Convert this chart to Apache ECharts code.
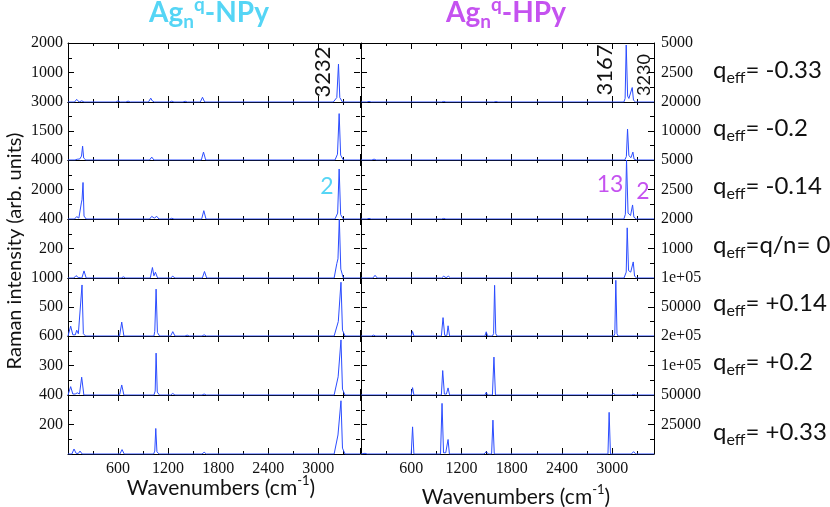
<!DOCTYPE html>
<html>
<head>
<meta charset="utf-8">
<script src="https://cdn.jsdelivr.net/npm/echarts@6/dist/echarts.min.js"></script>
<style>
html, body { margin: 0; padding: 0; background: #fff; }
#chart { width: 830px; height: 507px; }
</style>
</head>
<body>
<div id="chart"></div>
<script>
// Raman spectra, [wavenumber, intensity]
var npy_m033 = [[0,0],[78,0],[104,90],[134,0],[164,40],[192,0],[575,0],[600,40],[626,0],[694,0],[720,30],[746,0],[964,0],[992,130],[1010,40],[1036,0],[1218,0],[1244,30],[1270,0],[1378,0],[1404,25],[1430,0],[1586,0],[1612,160],[1638,0],[3180,0],[3222,150],[3242,1285],[3258,150],[3290,0],[3500,0]];
var npy_m02 = [[0,0],[84,0],[110,40],[140,50],[162,200],[175,716],[188,100],[214,0],[978,0],[1004,150],[1030,0],[1598,0],[1624,409],[1650,0],[3200,0],[3230,300],[3250,2400],[3268,250],[3300,0],[3500,0]];
var npy_m014 = [[0,0],[78,0],[104,160],[130,60],[160,1090],[168,1300],[180,2475],[192,200],[218,0],[978,0],[1004,180],[1034,60],[1064,180],[1090,0],[1218,0],[1244,50],[1270,0],[1602,0],[1628,565],[1654,0],[3200,0],[3232,400],[3250,3390],[3268,300],[3300,0],[3500,0]];
var npy_0 = [[0,0],[70,0],[96,16],[122,4],[166,0],[192,48],[218,0],[638,0],[664,8],[690,0],[986,0],[1012,71],[1030,15],[1048,39],[1074,0],[1230,0],[1256,12],[1282,0],[1610,0],[1636,44],[1662,0],[3190,0],[3222,98],[3236,130],[3252,400],[3270,60],[3300,0],[3500,0]];
var npy_p014 = [[0,0],[32,170],[58,20],[88,20],[104,100],[124,40],[146,60],[168,880],[184,40],[210,0],[618,0],[644,240],[670,0],[1030,0],[1040,80],[1056,808],[1072,60],[1098,0],[1230,0],[1256,75],[1282,0],[1402,0],[1428,15],[1454,0],[1606,0],[1632,20],[1658,0],[3190,0],[3240,250],[3272,927],[3290,100],[3320,0],[3500,0]];
var npy_p02 = [[0,0],[32,85],[58,10],[86,10],[112,22],[138,10],[164,181],[190,0],[618,0],[644,102],[670,0],[1030,0],[1045,40],[1056,426],[1070,30],[1096,0],[1230,0],[1256,15],[1282,0],[1606,0],[1632,10],[1658,0],[3190,0],[3238,185],[3272,560],[3290,60],[3320,0],[3500,0]];
var npy_p033 = [[0,0],[46,0],[72,34],[98,4],[124,4],[144,20],[170,0],[622,0],[648,30],[674,0],[1026,0],[1040,20],[1052,173],[1066,15],[1092,0],[1606,0],[1632,12],[1658,0],[3190,0],[3236,129],[3272,361],[3290,40],[3320,0],[3500,0]];

var hpy_m033 = [[0,0],[70,0],[96,50],[122,0],[962,0],[988,50],[1014,0],[1586,0],[1612,40],[1638,0],[3140,0],[3155,300],[3168,4830],[3185,500],[3200,300],[3240,1227],[3255,150],[3280,0],[3500,0]];
var hpy_m02 = [[0,0],[130,0],[156,300],[182,0],[3150,0],[3170,1200],[3184,10660],[3200,1500],[3225,800],[3248,2730],[3262,300],[3290,0],[3500,0]];
var hpy_m014 = [[0,0],[70,0],[96,50],[122,0],[962,0],[988,50],[1014,0],[3140,0],[3158,400],[3172,5000],[3190,500],[3220,300],[3244,1190],[3260,150],[3290,0],[3500,0]];
var hpy_0 = [[0,0],[142,0],[168,92],[194,0],[962,0],[988,60],[1016,10],[1044,60],[1070,0],[3142,0],[3168,200],[3180,1700],[3196,250],[3222,200],[3235,150],[3252,545],[3268,60],[3294,0],[3500,0]];
var hpy_p014 = [[0,0],[124,0],[150,1500],[176,0],[600,0],[616,7800],[632,0],[960,0],[980,31700],[1000,1000],[1026,1000],[1040,17600],[1058,0],[1480,0],[1496,7300],[1512,0],[1570,0],[1584,4000],[1596,87400],[1610,4000],[1625,0],[3020,0],[3032,4000],[3044,96000],[3058,4000],[3070,0],[3500,0]];
var hpy_p02 = [[0,0],[600,0],[616,24900],[632,0],[960,0],[976,82800],[996,3000],[1020,3000],[1040,24000],[1058,0],[1480,0],[1496,9000],[1512,0],[1570,0],[1588,128500],[1606,0],[2990,0],[3016,5000],[3042,0],[3230,0],[3256,2000],[3282,0],[3500,0]];
var hpy_p033 = [[0,0],[22,0],[48,600],[74,0],[600,0],[616,23000],[632,0],[950,0],[968,42900],[986,1000],[1012,1000],[1040,12300],[1056,0],[1470,0],[1496,2000],[1522,0],[1560,0],[1576,28700],[1592,0],[2950,0],[2964,35300],[2980,0],[3230,0],[3256,2000],[3282,0],[3500,0]];

var npySpectra = [npy_m033, npy_m02, npy_m014, npy_0, npy_p014, npy_p02, npy_p033];
var hpySpectra = [hpy_m033, hpy_m02, hpy_m014, hpy_0, hpy_p014, hpy_p02, hpy_p033];
var npyMax = [2000, 3000, 4000, 400, 1000, 600, 400];
var hpyMax = [5000, 20000, 5000, 2000, 100000, 200000, 50000];
var qeffLabels = ['= -0.33', '= -0.2', '= -0.14', '=q/n= 0', '= +0.14', '= +0.2', '= +0.33'];
var qeffY = [70, 128, 186, 245, 303, 362, 432];
var wnMax = 3500;

var myChart = echarts.init(document.getElementById('chart'));

var serif = '"Liberation Serif", "Times New Roman", serif';
var sans = 'Lato, "Open Sans", sans-serif';
var lineBlue = '#2b4cff';

var grids = [], xAxes = [], yAxes = [], series = [];
// panel edges in px (7 rows of ~58.7 px)
var rowEdges = [43, 102, 160, 219, 278, 336, 395, 454];

function plainLabel(v) {
    return '' + v;
}

function hpyLabel(v) {
    if (v >= 100000) return (v / 100000) + 'e+05';
    return '' + v;
}

function addPanel(col, row) {
    var k = grids.length;
    var last = row === 6;
    var ymax = col === 0 ? npyMax[row] : hpyMax[row];
    grids.push({
        left: col === 0 ? 68 : 361,
        top: rowEdges[row],
        width: col === 0 ? 292 : 293,
        height: rowEdges[row + 1] - rowEdges[row]
    });
    var xBase = {
        gridIndex: k, type: 'value', min: 0, max: wnMax, interval: 600,
        axisLine: { onZero: false, lineStyle: { color: '#000', width: 1 } },
        axisTick: { inside: true, length: 6, lineStyle: { color: '#000' } },
        minorTick: { show: true, splitNumber: 2, length: 3, lineStyle: { color: '#000' } },
        splitLine: { show: false }
    };
    xAxes.push(Object.assign({}, xBase, {
        position: 'bottom',
        axisLabel: {
            show: last, showMinLabel: false, showMaxLabel: false,
            fontFamily: serif, fontSize: 16, color: '#111', margin: 7,
            formatter: plainLabel
        }
    }));
    xAxes.push(Object.assign({}, xBase, { position: 'top', axisLabel: { show: false } }));

    var yBase = {
        gridIndex: k, type: 'value', min: 0, max: ymax, interval: ymax / 2,
        axisTick: { inside: true, length: 6, lineStyle: { color: '#000' } },
        minorTick: { show: true, splitNumber: 2, length: 4, lineStyle: { color: '#000' } },
        splitLine: { show: false }
    };
    yAxes.push(Object.assign({}, yBase, {
        position: col === 0 ? 'left' : 'right',
        axisLine: { onZero: false, lineStyle: { color: '#000', width: 1 } },
        axisLabel: {
            showMinLabel: false, showMaxLabel: true,
            fontFamily: serif, fontSize: 16, color: '#111',
            margin: col === 0 ? 5 : 7,
            formatter: col === 0 ? plainLabel : hpyLabel
        }
    }));
    yAxes.push(Object.assign({}, yBase, {
        position: col === 0 ? 'right' : 'left',
        axisLine: { show: col === 1, onZero: false, lineStyle: { color: '#000', width: 1 } },
        axisLabel: { show: false }
    }));

    series.push({
        type: 'line',
        xAxisIndex: 2 * k,
        yAxisIndex: 2 * k,
        data: col === 0 ? npySpectra[row] : hpySpectra[row],
        showSymbol: false,
        lineStyle: { color: lineBlue, width: 1 },
        clip: true
    });
}

for (var c = 0; c < 2; c++) {
    for (var r = 0; r < 7; r++) addPanel(c, r);
}

// texts around the panels
var graphics = [];

function titleText(x, txt, color) {
    return {
        type: 'text', x: x, y: 13,
        style: {
            text: '{a|Ag}{s|n}{p|q}{a|' + txt + '}',
            align: 'center', verticalAlign: 'middle',
            rich: {
                a: { fontFamily: sans, fontWeight: 'bold', fontSize: 28, lineHeight: 36, fill: color },
                s: { fontFamily: sans, fontWeight: 'bold', fontSize: 19, lineHeight: 18, verticalAlign: 'bottom', fill: color },
                p: { fontFamily: sans, fontWeight: 'bold', fontSize: 19, lineHeight: 18, verticalAlign: 'top', fill: color }
            }
        }
    };
}
graphics.push(titleText(209, '-NPy', '#55d5f5'));
graphics.push(titleText(506, '-HPy', '#c552f0'));

graphics.push({
    type: 'text', x: 15, y: 251, rotation: Math.PI / 2,
    style: {
        text: 'Raman intensity (arb. units)', align: 'center', verticalAlign: 'middle',
        fontFamily: sans, fontSize: 20, fill: '#111'
    }
});

function wnName(x, y) {
    return {
        type: 'text', x: x, y: y,
        style: {
            text: '{a|Wavenumbers (cm}{s|-1}{a|)}',
            align: 'center', verticalAlign: 'middle',
            rich: {
                a: { fontFamily: sans, fontSize: 21, lineHeight: 28, fill: '#111' },
                s: { fontFamily: sans, fontSize: 13, lineHeight: 15, verticalAlign: 'top', fill: '#111' }
            }
        }
    };
}
graphics.push(wnName(221, 488));
graphics.push(wnName(516, 497));

for (var i = 0; i < qeffLabels.length; i++) {
    graphics.push({
        type: 'text', x: 713, y: qeffY[i],
        style: {
            text: '{a|q}{s|eff}{a|' + qeffLabels[i] + '}',
            align: 'left', verticalAlign: 'middle',
            rich: {
                a: { fontFamily: sans, fontSize: 24, lineHeight: 32, fill: '#111' },
                s: { fontFamily: sans, fontSize: 16, lineHeight: 16, verticalAlign: 'bottom', fill: '#111' }
            }
        }
    });
}

// peak labels
function vText(x, y, txt, size) {
    return {
        type: 'text', x: x, y: y, rotation: Math.PI / 2,
        style: { text: txt, align: 'center', verticalAlign: 'middle', fontFamily: sans, fontSize: size, fill: '#111' }
    };
}
graphics.push(vText(323, 72, '3232', 22));
graphics.push(vText(605, 70, '3167', 22));
graphics.push(vText(644, 75, '3230', 18));

function numText(x, y, txt, color) {
    return {
        type: 'text', x: x, y: y,
        style: { text: txt, align: 'center', verticalAlign: 'middle', fontFamily: sans, fontSize: 23, fill: color }
    };
}
graphics.push(numText(327, 187, '2', '#55d5f5'));
graphics.push(numText(610, 185, '13', '#c552f0'));
graphics.push(numText(643, 192, '2', '#c552f0'));

var option = {
    animation: false,
    backgroundColor: '#fff',
    grid: grids,
    xAxis: xAxes,
    yAxis: yAxes,
    series: series,
    graphic: graphics
};

myChart.setOption(option);
</script>
</body>
</html>
